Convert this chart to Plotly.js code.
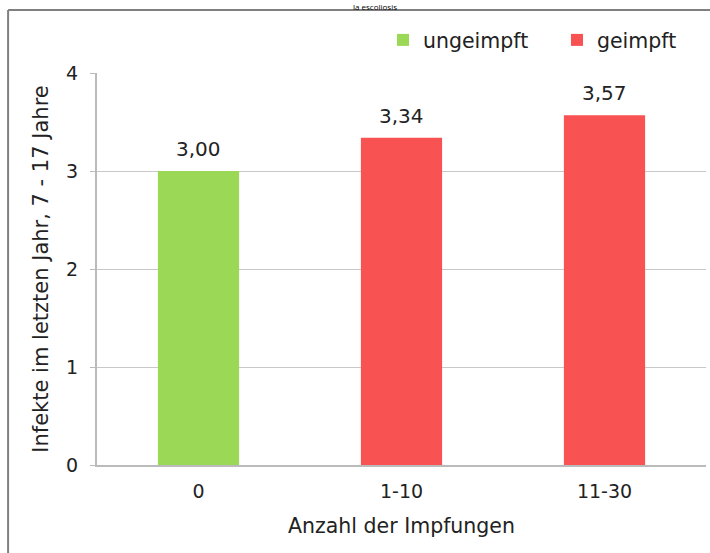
<!DOCTYPE html>
<html>
<head>
<meta charset="utf-8">
<script src="https://cdn.plot.ly/plotly-3.0.1.min.js"></script>
<style>html,body{margin:0;padding:0;background:#fff;}#chart{width:710px;height:553px;}</style>
</head>
<body>
<div id="chart"></div>
<script>
var catUngeimpft = ['0'];
var valUngeimpft = [3.00];
var catGeimpft = ['1-10', '11-30'];
var valGeimpft = [3.34, 3.57];
var categories = ['0', '1-10', '11-30'];
var yTicks = [0, 1, 2, 3, 4];

function fmt(v) { return v.toFixed(2).replace('.', ','); }

var font = 'DejaVu Sans, Verdana, sans-serif';
var txt = '#222';

var traces = [
  {
    type: 'bar', name: 'ungeimpft', x: catUngeimpft, y: valUngeimpft,
    marker: {color: '#9ad856'}, width: 0.4, legend: 'legend'
  },
  {
    type: 'bar', name: 'geimpft', x: catGeimpft, y: valGeimpft,
    marker: {color: '#f85253'}, width: 0.4, legend: 'legend2'
  }
];

var labelAnns = [];
catUngeimpft.forEach(function (c, i) {
  labelAnns.push({x: c, y: valUngeimpft[i], text: fmt(valUngeimpft[i])});
});
catGeimpft.forEach(function (c, i) {
  labelAnns.push({x: c, y: valGeimpft[i], text: fmt(valGeimpft[i])});
});
labelAnns = labelAnns.map(function (a) {
  return {x: a.x, y: a.y, text: a.text, xref: 'x', yref: 'y', showarrow: false,
          xanchor: 'center', yanchor: 'bottom', yshift: 8,
          font: {family: font, size: 20, color: txt}};
});

var legendFont = {family: font, size: 20.5, color: txt};

var layout = {
  width: 710, height: 553,
  margin: {l: 97, r: 4, t: 73, b: 88, pad: 0},
  paper_bgcolor: '#fff', plot_bgcolor: '#fff',
  barmode: 'overlay',
  font: {family: font, size: 18, color: txt},
  showlegend: true,
  legend: {
    orientation: 'h', x: 0.4696, xanchor: 'left', y: 1.084, yanchor: 'middle',
    font: legendFont, itemwidth: 30
  },
  legend2: {
    orientation: 'h', x: 0.7553, xanchor: 'left', y: 1.084, yanchor: 'middle',
    font: legendFont, itemwidth: 30
  },
  xaxis: {
    type: 'category', categoryorder: 'array', categoryarray: categories,
    range: [-0.5, 2.5], showline: true, linecolor: '#bbbbbb', linewidth: 2,
    ticks: '', showgrid: false, tickfont: {family: font, size: 19, color: txt},
    ticklabelstandoff: 8,
    title: {text: 'Anzahl der Impfungen', font: {family: font, size: 20.5, color: txt}, standoff: 18}
  },
  yaxis: {
    range: [0, 4], tickvals: yTicks, ticktext: yTicks.map(String),
    showline: true, linecolor: '#bbbbbb', linewidth: 2,
    ticks: 'outside', ticklen: 5, tickcolor: '#bbbbbb', tickwidth: 1,
    showgrid: true, gridcolor: '#c8c8c8', gridwidth: 1, zeroline: false,
    tickfont: {family: font, size: 19, color: txt}, ticklabelstandoff: 8,
    title: {text: 'Infekte im letzten Jahr, 7 - 17 Jahre', font: {family: font, size: 21, color: txt}, standoff: 12}
  },
  shapes: [
    {type: 'line', xref: 'paper', yref: 'paper', x0: -0.146, x1: -0.146, y0: -0.26, y1: 1.1607,
     line: {color: '#808080', width: 2}},
    {type: 'line', xref: 'paper', yref: 'paper', x0: -0.146, x1: 1.02, y0: 1.1607, y1: 1.1607,
     line: {color: '#808080', width: 2}}
  ],
  annotations: labelAnns.concat([
    {text: 'la escoliosis', xref: 'paper', yref: 'paper', x: 0.4565, y: 1.1862,
     xanchor: 'center', yanchor: 'top', showarrow: false, borderpad: 0,
     font: {family: 'Open Sans, sans-serif', size: 8, color: '#000'}}
  ])
};

Plotly.newPlot('chart', traces, layout, {displayModeBar: false, staticPlot: true});
</script>
</body>
</html>
